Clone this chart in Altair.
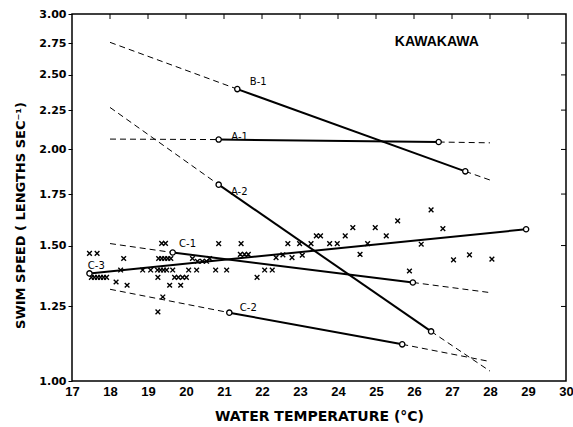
import altair as alt
import pandas as pd

# ---- data ----
line_names = ["B-1", "A-1", "A-2", "C-1", "C-2", "C-3"]
fit_x0 = [18.0, 18.0, 18.0, 18.0, 18.0, 17.46]
fit_y0 = [2.756, 2.063, 2.268, 1.509, 1.316, 1.38]
obs_x1 = [21.35, 20.86, 20.86, 19.65, 21.14, 17.46]
obs_y1 = [2.396, 2.06, 1.80, 1.469, 1.227, 1.38]
obs_x2 = [27.35, 26.65, 26.45, 25.97, 25.69, 28.95]
obs_y2 = [1.873, 2.045, 1.16, 1.343, 1.116, 1.575]
fit_x3 = [28.0, 28.0, 28.0, 28.0, 28.0, 28.95]
fit_y3 = [1.825, 2.04, 1.03, 1.303, 1.06, 1.575]

label_x = [21.9, 21.41, 21.4, 20.04, 21.64, 17.64]
label_y = [2.447, 2.075, 1.76, 1.506, 1.243, 1.41]

temp_obs = [17.46, 17.66, 17.51, 17.59, 17.67, 17.75, 17.83, 17.91, 18.16, 18.45,
            18.28, 18.36, 18.86, 19.07, 19.25, 19.33, 19.41, 19.49, 19.65, 19.26,
            19.26, 19.39, 19.36, 19.46, 19.28, 19.36, 19.44, 19.52, 19.60, 19.57,
            19.86, 19.70, 19.80, 19.91, 20.01, 20.07, 20.28, 20.17, 20.30, 20.43,
            20.54, 20.62, 20.78, 21.07, 20.86, 21.45, 21.43, 21.54, 21.64, 21.87,
            22.07, 22.27, 22.37, 22.55, 22.79, 23.06, 22.68, 22.99, 23.29, 23.43,
            23.54, 23.78, 23.98, 24.19, 24.39, 24.58, 24.78, 24.98, 25.27, 25.57,
            25.88, 26.19, 26.45, 26.76, 27.04, 27.46, 28.05]
speed_obs = [1.465, 1.465, 1.364, 1.364, 1.364, 1.364, 1.364, 1.364, 1.345, 1.332,
             1.394, 1.443, 1.394, 1.394, 1.394, 1.394, 1.394, 1.394, 1.394, 1.364,
             1.230, 1.286, 1.51, 1.51, 1.443, 1.443, 1.443, 1.443, 1.443, 1.332,
             1.332, 1.364, 1.364, 1.364, 1.364, 1.394, 1.394, 1.443, 1.431, 1.431,
             1.431, 1.443, 1.394, 1.394, 1.509, 1.509, 1.461, 1.461, 1.461, 1.364,
             1.394, 1.394, 1.447, 1.459, 1.447, 1.457, 1.509, 1.509, 1.509, 1.544,
             1.544, 1.509, 1.509, 1.544, 1.583, 1.461, 1.509, 1.583, 1.544, 1.615,
             1.390, 1.506, 1.669, 1.578, 1.437, 1.459, 1.440]

x_ticks = list(range(17, 31))
y_ticks = [1.00, 1.25, 1.50, 1.75, 2.00, 2.25, 2.50, 2.75, 3.00]

# ---- tables ----
solid_rows, dash_rows, circ_rows = [], [], []
for i, n in enumerate(line_names):
    solid_rows += [dict(seg=n, x=obs_x1[i], y=obs_y1[i], o=0), dict(seg=n, x=obs_x2[i], y=obs_y2[i], o=1)]
    circ_rows += [dict(x=obs_x1[i], y=obs_y1[i]), dict(x=obs_x2[i], y=obs_y2[i])]
    if fit_x0[i] != obs_x1[i]:
        dash_rows += [dict(seg=n + "a", x=fit_x0[i], y=fit_y0[i], o=0), dict(seg=n + "a", x=obs_x1[i], y=obs_y1[i], o=1)]
    if fit_x3[i] != obs_x2[i]:
        dash_rows += [dict(seg=n + "b", x=obs_x2[i], y=obs_y2[i], o=0), dict(seg=n + "b", x=fit_x3[i], y=fit_y3[i], o=1)]

solid_df = pd.DataFrame(solid_rows)
dash_df = pd.DataFrame(dash_rows)
circ_df = pd.DataFrame(circ_rows)
lab_df = pd.DataFrame(dict(x=label_x, y=label_y, t=line_names))
pts_df = pd.DataFrame(dict(x=temp_obs, y=speed_obs))
xt_df = pd.DataFrame(dict(x=x_ticks[1:-1]))
yt_df = pd.DataFrame(dict(y=y_ticks[1:-1]))
title_df = pd.DataFrame(dict(x=[26.6], y=[2.758], t=["KAWAKAWA"]))

W, H = 494, 367
FONT = "DejaVu Sans"

xscale = alt.Scale(domain=[17, 30], nice=False, zero=False)
yscale = alt.Scale(type="log", domain=[1, 3], nice=False)

X = alt.X("x:Q", scale=xscale,
          axis=alt.Axis(values=x_ticks, format="d", title="WATER TEMPERATURE (°C)",
                        tickSize=0, labelPadding=4, titlePadding=11, domain=False, grid=False,
                        labelOverlap=False, labelFlush=False,
                        labelFont="Liberation Sans", labelFontSize=13, labelFontWeight="bold", labelColor="black",
                        titleFont=FONT, titleFontSize=14, titleFontWeight="bold", titleColor="black"))
Y = alt.Y("y:Q", scale=yscale,
          axis=alt.Axis(values=y_ticks, format=".2f", title="SWIM SPEED ( LENGTHS SEC⁻¹)",
                        tickSize=4, tickColor="black", labelPadding=2, domain=False, grid=False,
                        labelOverlap=False, labelFlush=False,
                        labelFont=FONT, labelFontSize=11, labelFontWeight="bold", labelColor="black",
                        titleFont=FONT, titleFontSize=13, titleFontWeight="bold", titleColor="black",
                        titleX=-52, titleY=201, titleAngle=270, titleAlign="center", titleBaseline="middle"))

dashed = alt.Chart(dash_df).mark_line(color="black", strokeWidth=1, strokeDash=[6, 4]).encode(
    x=X, y=Y, detail="seg:N", order="o:Q")
solid = alt.Chart(solid_df).mark_line(color="black", strokeWidth=2).encode(
    x=X, y=Y, detail="seg:N", order="o:Q")
circles = alt.Chart(circ_df).mark_point(shape="circle", size=28, filled=True, fill="white",
                                        stroke="black", strokeWidth=1.3, opacity=1).encode(x=X, y=Y)
pts = alt.Chart(pts_df).mark_point(shape="M-1,-1L1,1M-1,1L1,-1", size=22, stroke="black",
                                   strokeWidth=1.4, filled=False, opacity=1).encode(x=X, y=Y)
labels = alt.Chart(lab_df).mark_text(font=FONT, fontSize=10, color="black", align="center",
                                     baseline="middle").encode(x=X, y=Y, text="t:N")
ttl = alt.Chart(title_df).mark_text(font="Liberation Sans", fontSize=14, fontWeight="bold", color="black",
                                    align="center", baseline="middle").encode(x=X, y=Y, text="t:N")
top_ticks = alt.Chart(xt_df).mark_rule(color="black", strokeWidth=1).encode(
    x=X, y=alt.value(0), y2=alt.value(5))
right_ticks = alt.Chart(yt_df).mark_rule(color="black", strokeWidth=1).encode(
    y=Y, x=alt.value(W - 5), x2=alt.value(W))

chart = alt.layer(dashed, solid, pts, circles, labels, ttl, top_ticks, right_ticks).properties(
    width=W, height=H,
    autosize=alt.AutoSizeParams(type="none"),
    padding={"left": 72, "top": 14, "right": 7, "bottom": 46},
    background="white",
).configure_view(stroke="black", strokeWidth=1.5).configure_axis(labelOverlap=False, labelFlush=False)

chart.save("out.html", embed_options={"renderer": "svg", "actions": False})
